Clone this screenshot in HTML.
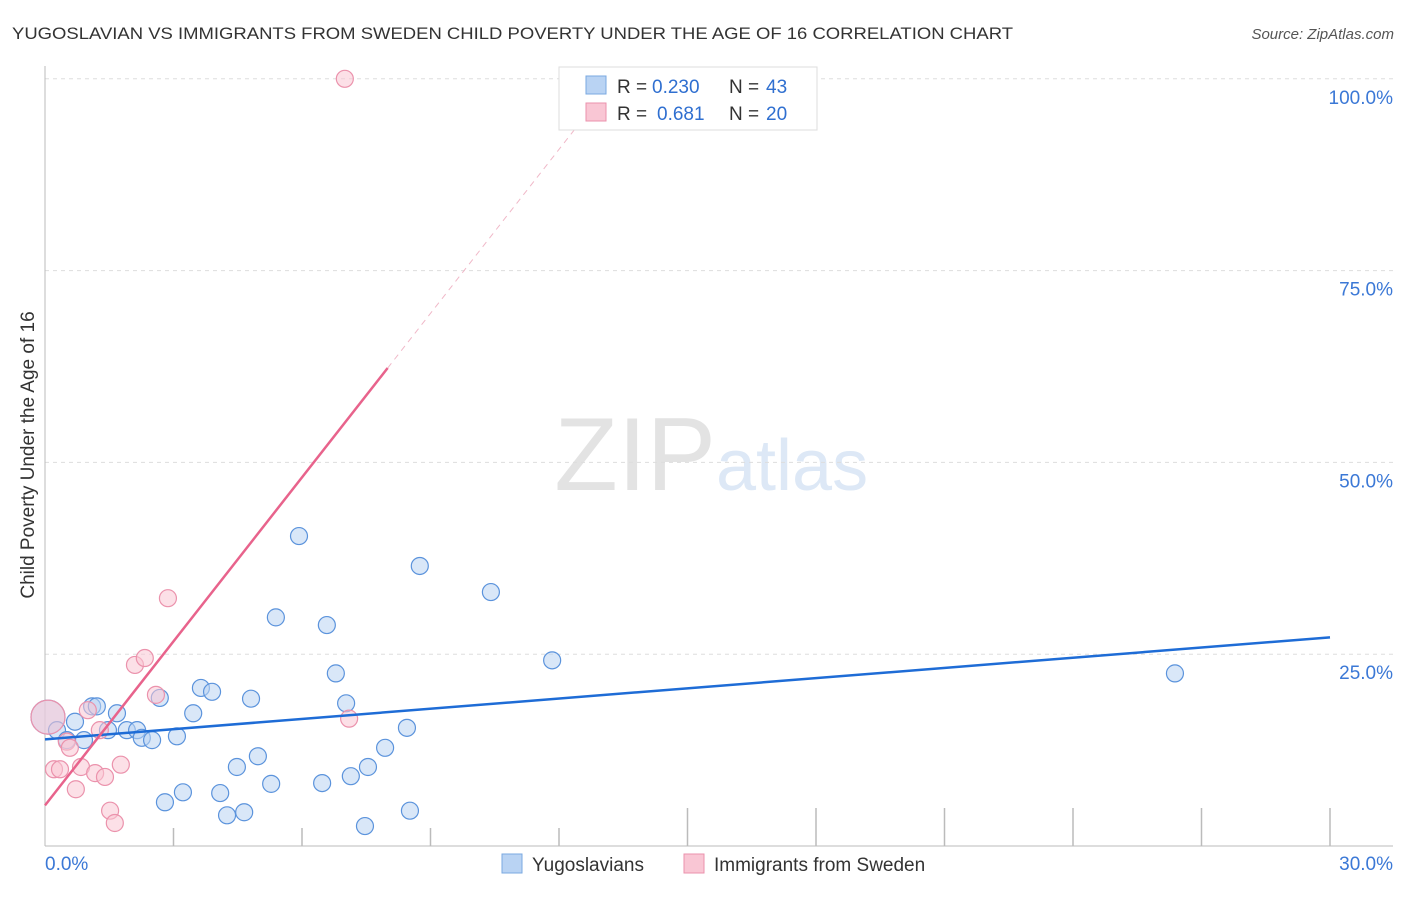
<!DOCTYPE html>
<html><head><meta charset="utf-8"><style>
body{margin:0;background:#fff;font-family:"Liberation Sans",sans-serif}
svg text{font-family:"Liberation Sans",sans-serif}
</style></head><body>
<svg width="1406" height="892" xmlns="http://www.w3.org/2000/svg">
<text x="12" y="39" font-size="17" fill="#333" textLength="1001" lengthAdjust="spacingAndGlyphs">YUGOSLAVIAN VS IMMIGRANTS FROM SWEDEN CHILD POVERTY UNDER THE AGE OF 16 CORRELATION CHART</text>
<text x="1394" y="39" font-size="15" fill="#555" text-anchor="end" font-style="italic">Source: ZipAtlas.com</text>
<text x="716" y="490" font-size="104" fill="#e3e3e3" text-anchor="end" font-family="Liberation Serif">ZIP</text>
<text x="716" y="490" font-size="72" fill="#dde8f6">atlas</text>
<g id="grid"></g>
<g id="marks"></g>
<text x="34" y="455" font-size="19" fill="#333" text-anchor="middle" transform="rotate(-90 34 455)">Child Poverty Under the Age of 16</text>
<g>
<rect x="559" y="67" width="258" height="63" fill="#fff" stroke="#ddd"/>
<rect x="586" y="76" width="20" height="18" fill="#b9d3f3" stroke="#7aa8e0"/>
<rect x="586" y="103" width="20" height="18" fill="#f9c6d4" stroke="#eb92ac"/>
<text x="617" y="93" font-size="19" fill="#333">R =</text><text x="652" y="93" font-size="19" fill="#2f6fd0">0.230</text>
<text x="729" y="93" font-size="19" fill="#333">N =</text><text x="766" y="93" font-size="19" fill="#2f6fd0">43</text>
<text x="617" y="120" font-size="19" fill="#333">R =</text><text x="657" y="120" font-size="19" fill="#2f6fd0">0.681</text>
<text x="729" y="120" font-size="19" fill="#333">N =</text><text x="766" y="120" font-size="19" fill="#2f6fd0">20</text>
</g>
<g>
<rect x="502" y="854" width="20" height="19" fill="#b9d3f3" stroke="#7aa8e0"/>
<text x="532" y="871" font-size="19" fill="#333">Yugoslavians</text>
<rect x="684" y="854" width="20" height="19" fill="#f9c6d4" stroke="#eb92ac"/>
<text x="714" y="871" font-size="19" fill="#333">Immigrants from Sweden</text>
</g>
</svg>
<script>
const blueX=[0.07,0.28,0.51,0.70,0.91,1.10,1.21,1.47,1.68,1.91,2.15,2.26,2.50,2.68,2.80,3.08,3.22,3.46,3.64,3.90,4.09,4.25,4.48,4.65,4.81,4.97,5.28,5.39,5.93,6.47,6.58,6.79,7.03,7.14,7.47,7.54,7.94,8.45,8.52,8.75,10.41,11.84,26.38];
const blueY=[16.8,15.1,13.8,16.2,13.8,18.2,18.2,15.1,17.3,15.1,15.1,14.1,13.8,19.3,5.7,14.3,7.0,17.3,20.6,20.1,6.9,4.0,10.3,4.4,19.2,11.7,8.1,29.8,40.4,8.2,28.8,22.5,18.6,9.1,2.6,10.3,12.8,15.4,4.6,36.5,33.1,24.2,22.5];
const pinkX=[0.07,0.21,0.35,0.51,0.58,0.72,0.84,1.00,1.17,1.28,1.40,1.52,1.63,1.77,2.10,2.33,2.59,2.87,7.10,7.00];
const pinkY=[16.8,10.0,10.0,13.6,12.8,7.4,10.3,17.7,9.5,15.1,9.0,4.6,3.0,10.6,23.6,24.5,19.7,32.3,16.6,100.0];
const blueTrend=[13.9,27.2];
const pinkTrend=[5.3,62.3];
const pinkTrendEndX=8.0;
const yTicks=[25,50,75,100];
const yTickLabels=["25.0%","50.0%","75.0%","100.0%"];
const xLabels=["0.0%","30.0%"];
const NS="http://www.w3.org/2000/svg";
const X=v=>45+v/30*1285, Y=v=>846-v*7.672;
function mk(t,a,p){const e=document.createElementNS(NS,t);for(const k in a)e.setAttribute(k,a[k]);p.appendChild(e);return e;}
const g=document.getElementById('grid'), m=document.getElementById('marks');
yTicks.forEach((t,i)=>{
 const l=mk('line',{x1:45,x2:1393,y1:Y(t),y2:Y(t),stroke:'#ddd','stroke-dasharray':'4,4'},g);
 
 
 const tx=mk('text',{x:1393,y:Y(t)+25,'font-size':19,fill:'#3b78d6','text-anchor':'end'},g);tx.textContent=yTickLabels[i];
 
 
});
const ax=mk('line',{x1:45,x2:45,y1:66,y2:846,stroke:'#bbb'},g);


const bx=mk('line',{x1:45,x2:1393,y1:846,y2:846,stroke:'#bbb'},g);


for(let i=1;i<=10;i++){const t=mk('line',{x1:X(i*3),x2:X(i*3),y1:i>=5?808:828,y2:846,stroke:'#bbb','stroke-width':1.5},g);
 
 }
[[0,'start',45],[30,'end',1393]].forEach((d,i)=>{const t=mk('text',{x:d[2],y:870,'font-size':19,fill:'#3b78d6','text-anchor':d[1]},g);t.textContent=xLabels[i];
 
 });
function pts(xs,ys,fill,stroke,name){xs.forEach((x,i)=>{const big=(x<0.1);
 const c=mk('circle',{cx:X(x),cy:Y(ys[i]),r:big?17:8.5,fill:fill,stroke:stroke,'stroke-width':1.2,'fill-opacity':0.55},m);
 
 });}
pts(blueX,blueY,'#b9d3f3','#5b93dc','yugoslavian-point');
pts(pinkX,pinkY,'#f9c6d4','#eb92ac','sweden-point');
const bl=mk('line',{x1:X(0),y1:Y(blueTrend[0]),x2:X(30),y2:Y(blueTrend[1]),stroke:'#1e6cd6','stroke-width':2.5},m);


const slope=(pinkTrend[1]-pinkTrend[0])/pinkTrendEndX;
const pl=mk('line',{x1:X(0),y1:Y(pinkTrend[0]),x2:X(pinkTrendEndX),y2:Y(pinkTrend[1]),stroke:'#e8638c','stroke-width':2.5},m);


const xe=(100-pinkTrend[0])/slope;
const pd=mk('line',{x1:X(pinkTrendEndX),y1:Y(pinkTrend[1]),x2:X(xe),y2:Y(100),stroke:'#f0b8c8','stroke-width':1,'stroke-dasharray':'6,5'},m);


</script>
</body></html>
